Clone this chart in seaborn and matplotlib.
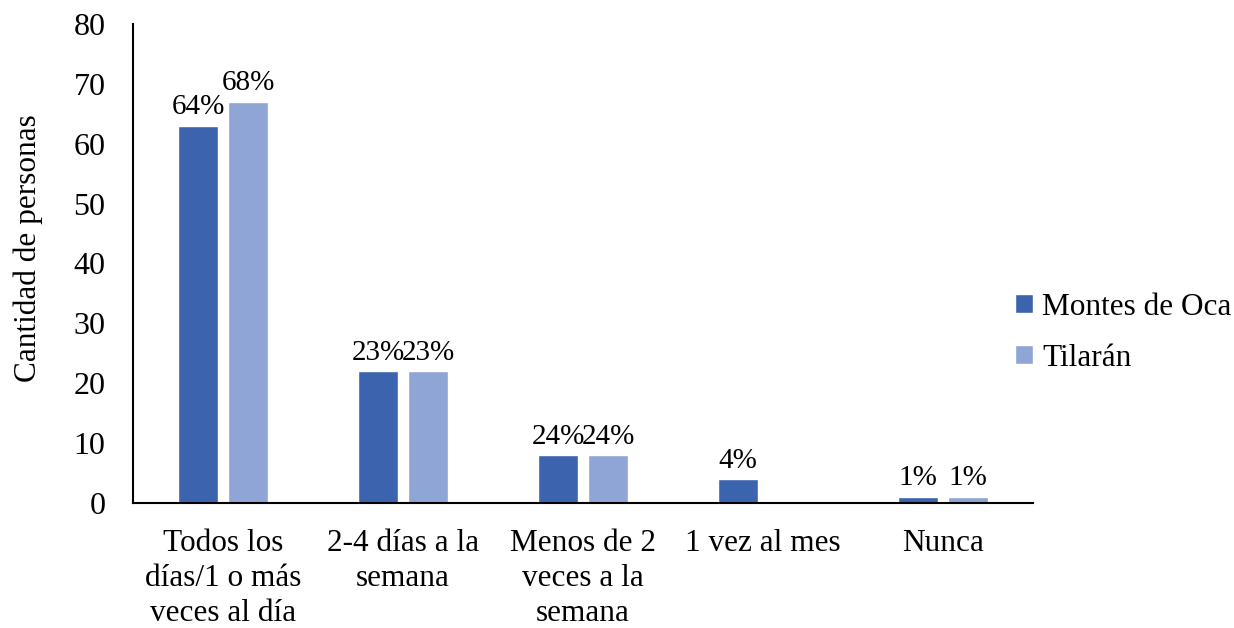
import pandas as pd
import matplotlib.pyplot as plt
import seaborn as sns

# Data
categorias = ["Todos los\ndías/1 o más\nveces al día", "2-4 días a la\nsemana",
              "Menos de 2\nveces a la\nsemana", "1 vez al mes", "Nunca"]
montes_de_oca = [63, 22, 8, 4, 1]
tilaran = [67, 22, 8, 0, 1]
etiquetas_montes = ["64%", "23%", "24%", "4%", "1%"]
etiquetas_tilaran = ["68%", "23%", "24%", "", "1%"]
grupos = ["Montes de Oca", "Tilarán"]
colores = ["#3C64AE", "#8FA5D5"]

df = pd.DataFrame({
    "categoria": categorias * 2,
    "valor": montes_de_oca + tilaran,
    "grupo": [grupos[0]] * len(categorias) + [grupos[1]] * len(categorias),
})

sns.set_style("white")
plt.rcParams["font.family"] = ["Liberation Serif", "DejaVu Serif"]
plt.rcParams["text.color"] = "black"
plt.rcParams["xtick.color"] = "black"
plt.rcParams["ytick.color"] = "black"
plt.rcParams["axes.labelcolor"] = "black"

fig = plt.figure(figsize=(12.34, 6.28), dpi=100)
ax = fig.add_axes([0.108, 0.199, 0.729, 0.763])

sns.barplot(data=df, x="categoria", y="valor", hue="grupo", palette=colores,
            width=0.556, gap=0.2, saturation=1, ax=ax)

for cont, etiquetas in zip(ax.containers, [etiquetas_montes, etiquetas_tilaran]):
    ax.bar_label(cont, labels=etiquetas, padding=4, fontsize=21)

ax.set_ylim(0, 80)
ax.set_xlim(-0.5, 4.5)
ax.set_yticks(range(0, 81, 10))
ax.set_xlabel("")
ax.set_ylabel("Cantidad de personas", fontsize=22.5, labelpad=22, y=0.532)
ax.tick_params(axis="y", labelsize=23, length=0, pad=20)
ax.tick_params(axis="x", labelsize=22.5, length=0, pad=19)
for lbl in ax.get_xticklabels():
    lbl.set_linespacing(1.26)

sns.despine(ax=ax)
for s in ["left", "bottom"]:
    ax.spines[s].set_color("black")
    ax.spines[s].set_linewidth(1.5)

ax.legend(loc="center left", bbox_to_anchor=(0.8, 0.47),
          bbox_transform=fig.transFigure, frameon=False, fontsize=22.5,
          handlelength=0.55, handleheight=0.55, handletextpad=0.3,
          labelspacing=0.7)

fig.savefig("out.png", dpi=100)
